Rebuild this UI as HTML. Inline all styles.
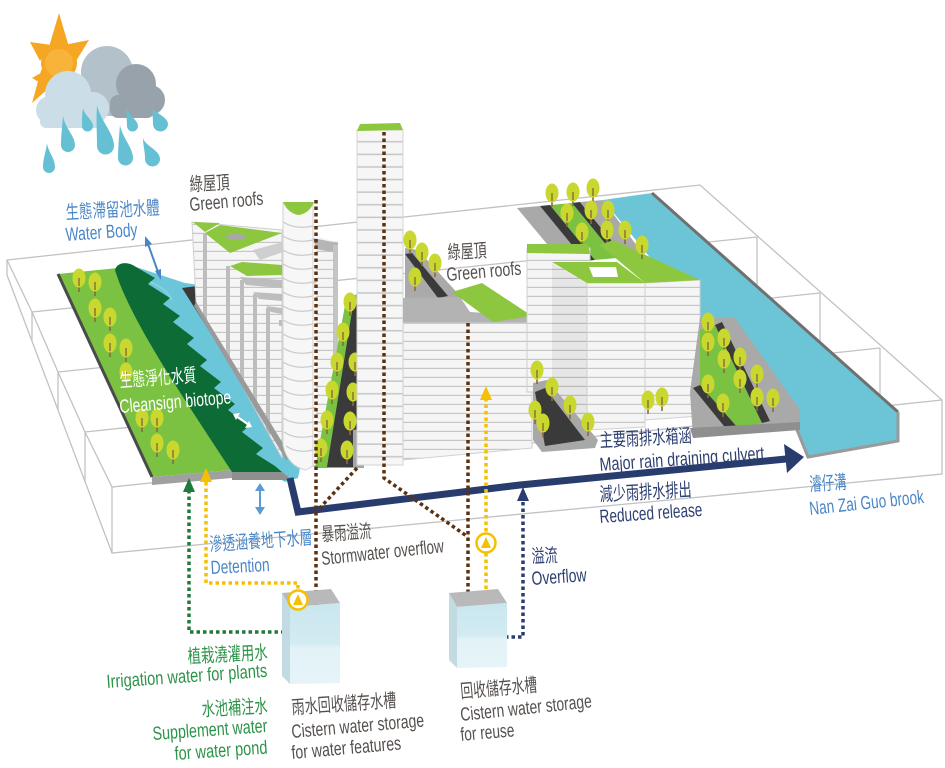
<!DOCTYPE html>
<html><head><meta charset="utf-8">
<style>
html,body{margin:0;padding:0;background:#fff;}
svg{display:block;}
text{font-family:"Liberation Sans","Noto Sans CJK TC",sans-serif;}
</style></head><body>
<svg width="945" height="768" viewBox="0 0 945 768" xmlns="http://www.w3.org/2000/svg" xmlns:xlink="http://www.w3.org/1999/xlink">
<defs>
<g id="tr"><path d="M0,-2V14" stroke="#8a6b3c" stroke-width="1.6"/><ellipse cx="0" cy="0" rx="6.5" ry="9.5" fill="#c8d82f"/><path d="M0,0V8" stroke="#8a6b3c" stroke-width="1.4"/></g>
<pattern id="hl" width="20" height="9" patternUnits="userSpaceOnUse"><rect width="20" height="9" fill="#f5f5f5"/><rect y="7.8" width="20" height="1.2" fill="#c6c6c6"/></pattern>
<pattern id="hlg" width="20" height="9" patternUnits="userSpaceOnUse"><rect width="20" height="9" fill="#e6e6e6"/><rect y="7.8" width="20" height="1.2" fill="#b9b9b9"/></pattern>
<pattern id="hl2" width="20" height="12.6" patternUnits="userSpaceOnUse" y="130"><rect width="20" height="12.6" fill="#f6f6f6"/><rect y="11" width="20" height="1.5" fill="#c6c6c6"/></pattern>
<clipPath id="cl"><polygon points="192,222 282,230 282,458 196,302"/></clipPath>
<linearGradient id="cw" x1="0" y1="0" x2="0" y2="1"><stop offset="0" stop-color="#c9e6ef"/><stop offset="0.5" stop-color="#d3ebf2"/><stop offset="0.55" stop-color="#e2f2f6"/><stop offset="1" stop-color="#e6f4f8"/></linearGradient>
</defs>
<rect width="945" height="768" fill="#fff"/>

<!-- slab -->
<g fill="none" stroke="#c2c2c2" stroke-width="1.3">
<path d="M7,260 L700,185 L942,400 L942,474 L112,553 L7,275 Z"/>
<path d="M7,260 L32,312 L58,372 L85,432 L112,487 L942,400"/>
<path d="M32,312 L757,237 M58,372 L820,293 M85,432 L880,348"/>
<path d="M32,312 V341 M58,372 V410 M85,432 V482 M112,487 V553"/>
<path d="M757,237 V292 M820,293 V348 M880,348 V400"/>
</g>

<!-- river right -->
<polygon points="603,200 652,193 898,412 898,441 808,457 795,424 700,320 640,245" fill="#6bc5d7"/>
<path d="M652,193 L898,412" stroke="#707070" stroke-width="3"/>
<path d="M898,412 V441 L808,457 L795,425" stroke="#9a9a9a" stroke-width="3" fill="none"/>

<!-- left water/lawn -->
<polygon points="130,265 185,283 200,285 302,458 298,478 285,482 268,472" fill="#6cc6d9"/>
<polygon points="58,274 118,268 232,470 152,477" fill="#7cc242"/>
<path d="M58,274 L152,477" stroke="#4a4a4a" stroke-width="3"/>
<polygon points="152,477 232,470 232,478 152,485" fill="#a0a0a0"/>
<g>
<use xlink:href="#tr" x="79" y="278"/><use xlink:href="#tr" x="95" y="282"/><use xlink:href="#tr" x="95" y="308"/><use xlink:href="#tr" x="110" y="317"/><use xlink:href="#tr" x="110" y="343"/><use xlink:href="#tr" x="126" y="348"/><use xlink:href="#tr" x="126" y="372"/><use xlink:href="#tr" x="142" y="418"/><use xlink:href="#tr" x="157" y="418"/><use xlink:href="#tr" x="157" y="443"/><use xlink:href="#tr" x="173" y="450"/>
</g>
<path d="M115,270 C117,262 128,261 136,267 L155,278 L148,284 L170,298 L163,304 L180,316 L173,322 L194,338 L187,344 L207,360 L200,366 L221,382 L214,388 L235,404 L228,410 L249,426 L242,432 L263,448 L256,454 L275,466 L282,472 L232,472 C185,400 130,320 115,270 Z" fill="#0d6b36"/>
<path d="M150,282 C160,286 166,290 172,300" stroke="#8fd3e2" stroke-width="2" fill="none" opacity="0.7"/>
<polygon points="232,472 282,472 292,480 232,480" fill="#8f8f8f"/>
<polygon points="182,288 197,286 302,455 292,462" fill="#3a3a3a"/>
<path d="M236,416 L249,425" stroke="#fff" stroke-width="2.2"/>
<polygon points="233,414 240,413 236,420" fill="#fff"/><polygon points="252,427 245,428 249,421" fill="#fff"/>

<!-- left building cluster -->
<polygon points="192,222 282,230 282,458 196,302" fill="url(#hl)" stroke="#cfcfcf"/>
<g clip-path="url(#cl)" fill="#bdbdbd">
<rect x="203" y="233" width="4" height="240"/>
<rect x="226" y="266" width="4" height="240"/>
<rect x="240" y="280" width="4" height="240"/>
<rect x="253" y="294" width="4" height="240"/>
<rect x="266" y="308" width="4" height="240"/>
<polygon points="240,277 282,280 282,288 246,285"/>
<polygon points="253,292 282,294 282,301 259,299"/>
<polygon points="266,306 282,308 282,314 271,312"/>
<polygon points="279,320 282,320 282,326 279,326"/>
</g>
<polygon points="193,222 220,223 205,232" fill="#8dc63f"/>
<polygon points="205,233 220,225 282,233 230,253" fill="#8dc63f"/>
<ellipse cx="236" cy="237" rx="10" ry="3" fill="#a8a8a8"/>
<polygon points="253,250 283,242 283,252 260,260" fill="#cfcfcf"/>
<polygon points="230,266 242,262 282,265 282,275 247,276" fill="#8dc63f"/>
<polygon points="196,302 292,458 286,460 194,306" fill="#9a9a9a"/>

<!-- building behind tower -->
<polygon points="316,236 338,242 338,432 316,440" fill="url(#hl)"/>
<polygon points="313,238 338,243 338,253 316,249" fill="#b5b5b5"/>
<rect x="333" y="245" width="5" height="188" fill="#c4c4c4"/>

<!-- tower -->
<path d="M283,203 L313,203 L313,466 L306,470 C295,468 286,460 283,445 Z" fill="#f7f7f7" stroke="#d2d2d2"/>
<g fill="none" stroke="#c9c9c9" stroke-width="1.2">
<path d="M283,222 Q296,230 313,226"/><path d="M283,236 Q296,244 313,240"/><path d="M283,250 Q296,258 313,254"/><path d="M283,264 Q296,272 313,268"/><path d="M283,278 Q296,286 313,282"/><path d="M283,292 Q296,300 313,296"/><path d="M283,306 Q296,314 313,310"/><path d="M283,320 Q296,328 313,324"/><path d="M283,334 Q296,342 313,338"/><path d="M283,348 Q296,356 313,352"/><path d="M283,362 Q296,370 313,366"/><path d="M283,376 Q296,384 313,380"/><path d="M283,390 Q296,398 313,394"/><path d="M283,404 Q296,412 313,408"/><path d="M283,418 Q296,426 313,422"/><path d="M284,432 Q296,440 313,436"/><path d="M286,446 Q298,454 313,450"/>
</g>
<path d="M283,202 L314,202 Q309,214 298,215 Q288,213 283,202 Z" fill="#8dc63f"/>

<!-- green strip between -->
<polygon points="346,300 357,294 357,468 315,468" fill="#7cc242"/>
<polygon points="353,305 357,302 357,430 353,430 353,467 327,467" fill="#3a3a3a"/>
<polygon points="353,430 364,428 364,468 353,468" fill="#a5a5a5"/>
<use xlink:href="#tr" x="350" y="302"/><use xlink:href="#tr" x="343" y="332"/><use xlink:href="#tr" x="337" y="362"/><use xlink:href="#tr" x="332" y="390"/><use xlink:href="#tr" x="327" y="420"/><use xlink:href="#tr" x="321" y="448"/><use xlink:href="#tr" x="355" y="362"/><use xlink:href="#tr" x="353" y="392"/><use xlink:href="#tr" x="350" y="421"/><use xlink:href="#tr" x="347" y="450"/>

<!-- tall building -->
<rect x="357" y="130" width="46" height="335" fill="url(#hl2)" stroke="#d4d4d4"/>
<polygon points="357,131 360,124 400,123 403,130" fill="#8dc63f"/>

<!-- center building -->
<polygon points="405,248 418,250 462,298 405,300" fill="#aaaaaa"/>
<polygon points="405,254 412,253 448,296 438,298" fill="#3a3a3a"/>
<use xlink:href="#tr" x="410" y="240"/><use xlink:href="#tr" x="422" y="252"/><use xlink:href="#tr" x="435" y="263"/><use xlink:href="#tr" x="415" y="277"/>
<polygon points="403,298 460,297 470,312 532,316 532,324 403,324" fill="#b3b3b3"/>
<polygon points="452,292 482,283 532,316 493,322" fill="#8dc63f"/>
<polygon points="403,323 532,323 532,448 403,460" fill="url(#hl)" stroke="#d0d0d0"/>

<!-- right cluster: back tree rows -->
<polygon points="517,208 540,206 585,261 562,262" fill="#a9a9a9"/>
<polygon points="540,206 550,205 595,260 585,261" fill="#3a3a3a"/>
<polygon points="550,205 572,203 617,258 595,260" fill="#7cc242"/>
<polygon points="572,203 580,202 625,257 617,258" fill="#3a3a3a"/>
<polygon points="580,202 603,200 640,250 625,257" fill="#a9a9a9"/>
<use xlink:href="#tr" x="552" y="193"/><use xlink:href="#tr" x="573" y="192"/><use xlink:href="#tr" x="593" y="188"/><use xlink:href="#tr" x="567" y="213"/><use xlink:href="#tr" x="591" y="210"/><use xlink:href="#tr" x="608" y="210"/><use xlink:href="#tr" x="582" y="232"/><use xlink:href="#tr" x="607" y="230"/>

<!-- bldg C -->
<polygon points="645,283 700,280 700,416 645,420" fill="url(#hl)" stroke="#d0d0d0"/>
<polygon points="600,245 613,240 700,280 645,283" fill="#8dc63f"/>
<use xlink:href="#tr" x="625" y="230"/><use xlink:href="#tr" x="642" y="245"/>
<!-- bldg A -->
<polygon points="527,248 590,248 590,392 527,392" fill="url(#hl)" stroke="#d0d0d0"/>
<polygon points="527,244 588,244 590,254 527,253" fill="#8dc63f"/>
<!-- bldg B -->
<polygon points="552,263 587,283 587,430 552,410" fill="url(#hlg)"/>
<polygon points="587,283 645,283 645,427 587,430" fill="url(#hl)" stroke="#d0d0d0"/>
<polygon points="552,262 617,262 645,283 587,283" fill="#8dc63f"/>
<polygon points="589,267 616,267 618,277 593,277" fill="#fff"/>

<!-- lower-left planter -->
<polygon points="533,383 547,380 598,440 595,448 542,452 533,440" fill="#a8a8a8"/>
<polygon points="535,392 545,388 585,440 545,446" fill="#3a3a3a"/>
<use xlink:href="#tr" x="537" y="370"/><use xlink:href="#tr" x="552" y="387"/><use xlink:href="#tr" x="570" y="405"/><use xlink:href="#tr" x="588" y="422"/><use xlink:href="#tr" x="543" y="423"/><use xlink:href="#tr" x="535" y="410"/>
<use xlink:href="#tr" x="648" y="400"/><use xlink:href="#tr" x="662" y="397"/>

<!-- lower-right planters -->
<polygon points="690,392 700,318 735,318 800,410 800,429 693,438" fill="#a9a9a9"/>
<polygon points="700,330 715,325 762,423 738,428 700,385" fill="#7cc242"/>
<polygon points="693,388 700,385 738,428 728,431" fill="#3a3a3a"/>
<polygon points="715,325 722,322 770,421 762,423" fill="#3a3a3a"/>
<polygon points="690,428 800,422 800,430 693,438" fill="#8f8f8f"/>
<use xlink:href="#tr" x="708" y="322"/><use xlink:href="#tr" x="708" y="342"/><use xlink:href="#tr" x="724" y="338"/><use xlink:href="#tr" x="724" y="359"/><use xlink:href="#tr" x="740" y="357"/><use xlink:href="#tr" x="740" y="379"/><use xlink:href="#tr" x="757" y="374"/><use xlink:href="#tr" x="757" y="397"/><use xlink:href="#tr" x="773" y="398"/><use xlink:href="#tr" x="708" y="384"/><use xlink:href="#tr" x="723" y="403"/>

<!-- culvert -->
<polyline points="290,478 298,512 520,485 786,459" fill="none" stroke="#283c6e" stroke-width="7" stroke-linejoin="miter"/>
<polygon points="784,444 804,457 787,473" fill="#283c6e"/>

<!-- dotted lines -->
<g fill="none" stroke-width="3.5" stroke-dasharray="3.5 3">
<path d="M316,200 V598" stroke="#5b3210"/>
<path d="M357,468 L318,510" stroke="#5b3210"/>
<path d="M384,132 V478 L468,537" stroke="#5b3210"/>
<path d="M468,323 V610" stroke="#5b3210"/>
<path d="M206,482 V583 H298 V590" stroke="#f5c000"/>
<path d="M298,612 V628" stroke="#f5c000"/>
<path d="M486,398 V533 M486,553 V615" stroke="#f5c000"/>
<path d="M189,490 V632 H290" stroke="#1f7a3b"/>
<path d="M505,637 H523 V500" stroke="#2a3d72"/>
</g>
<polygon points="310,597 322,597 316,611" fill="#5b3210"/>
<polygon points="462,610 474,610 468,625" fill="#5b3210"/>
<polygon points="200,482 212,482 206,468" fill="#f5c000"/>
<polygon points="480,400 492,400 486,386" fill="#f5c000"/>
<polygon points="183,492 195,492 189,478" fill="#1f7a3b"/>
<polygon points="517,501 529,501 523,487" fill="#2a3d72"/>

<!-- blue double arrows -->
<path d="M148,244 L158,272" stroke="#4a86c6" stroke-width="2"/>
<polygon points="145,236 152,244 145,247" fill="#4a86c6"/><polygon points="161,280 155,271 161,269" fill="#4a86c6"/>
<path d="M260,490 V508" stroke="#5b9bd5" stroke-width="2"/>
<polygon points="255,491 265,491 260,483" fill="#5b9bd5"/><polygon points="255,507 265,507 260,515" fill="#5b9bd5"/>

<!-- cisterns -->
<polygon points="282,593 331,589 340,603 290,607" fill="#b9b9b9"/>
<polygon points="282,593 290,607 290,684 282,676" fill="#c2dae2"/>
<polygon points="290,607 340,603 340,683 290,684" fill="url(#cw)"/>
<polygon points="449,593 498,589 507,603 457,607" fill="#b9b9b9"/>
<polygon points="449,593 457,607 457,668 449,660" fill="#c2dae2"/>
<polygon points="457,607 507,603 507,667 457,668" fill="url(#cw)"/>

<!-- pumps -->
<circle cx="298" cy="600" r="9.5" fill="#fff" stroke="#f5c000" stroke-width="2.5"/>
<polygon points="293,605 303,605 298,594" fill="#f5c000"/>
<circle cx="486" cy="543" r="9.5" fill="#fff" stroke="#f5c000" stroke-width="2.5"/>
<polygon points="481,548 491,548 486,537" fill="#f5c000"/>

<!-- sky -->
<g fill="#f5a623">
<circle cx="59" cy="63" r="18"/>
<polygon points="59,13 49,47 69,47"/>
<polygon points="30,42 51.8,45 40,61"/>
<polygon points="89,40 76,61 64,45"/>
<polygon points="32,103 58,80 41.5,69"/>
<polygon points="32,78 46,70 46,86"/>
</g>
<circle cx="59" cy="63" r="14" fill="#f8b43a"/>
<g fill="#b3c1ca">
<circle cx="107" cy="72" r="26"/><circle cx="85" cy="92" r="15"/><rect x="75" y="88" width="60" height="28"/>
</g>
<g fill="#97a2ab">
<circle cx="136" cy="84" r="20"/><circle cx="150" cy="100" r="15"/><rect x="110" y="95" width="45" height="23" rx="8"/>
</g>
<g fill="#cbdee8">
<circle cx="68" cy="94" r="23"/><circle cx="50" cy="110" r="14"/><circle cx="93" cy="108" r="16"/><rect x="40" y="105" width="63" height="23" rx="6"/>
</g>
<g fill="#65c0d3">
<path d="M47,143 C48,152 55,158 55,167 A6,6 0 0 1 43,167 C43,158 46,152 47,143 Z"/>
<path d="M63,116 C65,128 75,136 75,145 A7,7 0 0 1 61,145 C61,136 62,128 63,116 Z"/>
<path d="M83,108 C84,115 93,120 93,126 A5.5,5.5 0 0 1 82,126 C82,120 82,115 83,108 Z"/>
<path d="M97,105 C100,120 114,133 114,146 A8.5,8.5 0 0 1 97,146 C97,133 96,120 97,105 Z"/>
<path d="M120,125 C122,137 133,148 133,158 A7.5,7.5 0 0 1 118,158 C118,148 119,137 120,125 Z"/>
<path d="M127,108 C128,115 138,120 138,126 A5.5,5.5 0 0 1 127,126 C127,120 126,115 127,108 Z"/>
<path d="M143,138 C145,146 160,150 160,159 A7.5,7.5 0 0 1 145,159 C145,150 143,146 143,138 Z"/>
<path d="M153,108 C155,113 168,117 168,124 A7.5,7.5 0 0 1 153,124 C153,117 152,113 153,108 Z"/>
</g>

<!-- texts -->
<g font-size="19">
<text x="66" y="219" fill="#4a86c6" textLength="94" lengthAdjust="spacingAndGlyphs" transform="rotate(-3 66 219)">生態滯留池水體</text>
<text x="66" y="241" fill="#4a86c6" textLength="72" lengthAdjust="spacingAndGlyphs" transform="rotate(-4 66 241)">Water Body</text>
<text x="190" y="191" fill="#55504d" textLength="40" lengthAdjust="spacingAndGlyphs" transform="rotate(-3 190 191)">綠屋頂</text>
<text x="190" y="211" fill="#55504d" textLength="74" lengthAdjust="spacingAndGlyphs" transform="rotate(-5 190 211)">Green roofs</text>
<text x="448" y="259" fill="#55504d" textLength="39" lengthAdjust="spacingAndGlyphs" transform="rotate(-3 448 259)">綠屋頂</text>
<text x="447" y="281" fill="#55504d" textLength="75" lengthAdjust="spacingAndGlyphs" transform="rotate(-5 447 281)">Green roofs</text>
<text x="120" y="387" fill="#ffffff" textLength="77" lengthAdjust="spacingAndGlyphs" transform="rotate(-4 120 387)">生態淨化水質</text>
<text x="120" y="413" fill="#ffffff" textLength="112" lengthAdjust="spacingAndGlyphs" transform="rotate(-5 120 413)">Cleansign biotope</text>
<text x="600" y="447" fill="#2c3f71" textLength="92" lengthAdjust="spacingAndGlyphs" transform="rotate(-3 600 447)">主要雨排水箱涵</text>
<text x="600" y="471" fill="#2c3f71" textLength="165" lengthAdjust="spacingAndGlyphs" transform="rotate(-4 600 471)">Major rain draining culvert</text>
<text x="600" y="501" fill="#2c3f71" textLength="92" lengthAdjust="spacingAndGlyphs" transform="rotate(-3 600 501)">減少雨排水排出</text>
<text x="600" y="523" fill="#2c3f71" textLength="103" lengthAdjust="spacingAndGlyphs" transform="rotate(-4 600 523)">Reduced release</text>
<text x="810" y="491" fill="#4a86c6" textLength="37" lengthAdjust="spacingAndGlyphs" transform="rotate(-4 810 491)">濬仔溝</text>
<text x="810" y="515" fill="#4a86c6" textLength="115" lengthAdjust="spacingAndGlyphs" transform="rotate(-6 810 515)">Nan Zai Guo brook</text>
<text x="210" y="551" fill="#4a86c6" textLength="103" lengthAdjust="spacingAndGlyphs" transform="rotate(-4 210 551)">滲透涵養地下水層</text>
<text x="211" y="574" fill="#4a86c6" textLength="59" lengthAdjust="spacingAndGlyphs" transform="rotate(-3 211 574)">Detention</text>
<text x="322" y="541" fill="#55504d" textLength="50" lengthAdjust="spacingAndGlyphs" transform="rotate(-4 322 541)">暴雨溢流</text>
<text x="322" y="565" fill="#55504d" textLength="123" lengthAdjust="spacingAndGlyphs" transform="rotate(-6 322 565)">Stormwater overflow</text>
<text x="532" y="563" fill="#2c3f71" textLength="26" lengthAdjust="spacingAndGlyphs" transform="rotate(-3 532 563)">溢流</text>
<text x="532" y="585" fill="#2c3f71" textLength="55" lengthAdjust="spacingAndGlyphs" transform="rotate(-4 532 585)">Overflow</text>
<text x="188" y="663" fill="#2b9348" textLength="80" lengthAdjust="spacingAndGlyphs" transform="rotate(-3 188 663)">植栽澆灌用水</text>
<text x="107" y="688" fill="#2b9348" textLength="161" lengthAdjust="spacingAndGlyphs" transform="rotate(-4 107 688)">Irrigation water for plants</text>
<text x="202" y="716" fill="#2b9348" textLength="66" lengthAdjust="spacingAndGlyphs" transform="rotate(-3 202 716)">水池補注水</text>
<text x="153" y="740" fill="#2b9348" textLength="115" lengthAdjust="spacingAndGlyphs" transform="rotate(-4 153 740)">Supplement water</text>
<text x="175" y="760" fill="#2b9348" textLength="93" lengthAdjust="spacingAndGlyphs" transform="rotate(-4 175 760)">for water pond</text>
<text x="292" y="714" fill="#55504d" textLength="105" lengthAdjust="spacingAndGlyphs" transform="rotate(-4 292 714)">雨水回收儲存水槽</text>
<text x="292" y="738" fill="#55504d" textLength="133" lengthAdjust="spacingAndGlyphs" transform="rotate(-5 292 738)">Cistern water storage</text>
<text x="292" y="759" fill="#55504d" textLength="110" lengthAdjust="spacingAndGlyphs" transform="rotate(-5 292 759)">for water features</text>
<text x="461" y="698" fill="#55504d" textLength="77" lengthAdjust="spacingAndGlyphs" transform="rotate(-5 461 698)">回收儲存水槽</text>
<text x="461" y="721" fill="#55504d" textLength="132" lengthAdjust="spacingAndGlyphs" transform="rotate(-6 461 721)">Cistern water storage</text>
<text x="461" y="741" fill="#55504d" textLength="54" lengthAdjust="spacingAndGlyphs" transform="rotate(-5 461 741)">for reuse</text>
</g>
</svg>
</body></html>
